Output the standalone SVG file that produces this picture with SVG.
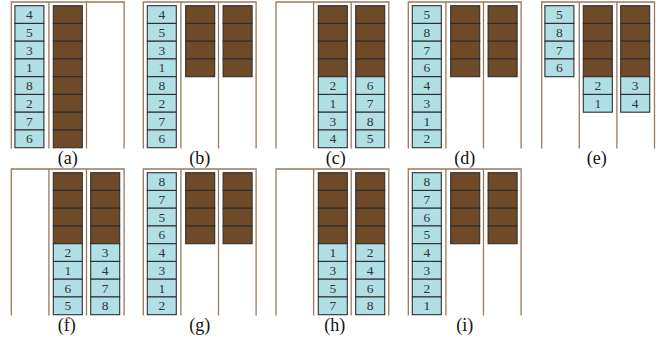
<svg xmlns="http://www.w3.org/2000/svg" xmlns:xlink="http://www.w3.org/1999/xlink" width="667" height="341" viewBox="0 0 667 341">
<style>
.fr{fill:none;stroke:#9c7a5c;stroke-width:1.3}
.b{fill:#b0e0e6;stroke:#2f2f2f;stroke-width:1.1}
.w{fill:#6e4a29;stroke:#2f2f2f;stroke-width:1.1}
.n{font-family:"Liberation Serif","DejaVu Serif",serif;font-size:13.5px;fill:#333;text-anchor:middle}
.lb{font-family:"Liberation Serif","DejaVu Serif",serif;font-size:18px;fill:#111;text-anchor:middle}
</style>
<defs>
<path id="frame" class="fr" d="M0,146.5V0H112.8V146.5M37.6,0V146.5M75.2,0V146.5"/>
<g id="br4">
<rect class="w" x="0" y="3.7" width="29" height="17.75"/>
<rect class="w" x="0" y="21.45" width="29" height="17.75"/>
<rect class="w" x="0" y="39.2" width="29" height="17.75"/>
<rect class="w" x="0" y="56.95" width="29" height="17.75"/>
</g>
<g id="br8">
<use xlink:href="#br4"/>
<use xlink:href="#br4" y="71"/>
</g>
<g id="bl8">
<rect class="b" x="0" y="3.7" width="29" height="17.75"/>
<rect class="b" x="0" y="21.45" width="29" height="17.75"/>
<rect class="b" x="0" y="39.2" width="29" height="17.75"/>
<rect class="b" x="0" y="56.95" width="29" height="17.75"/>
<rect class="b" x="0" y="74.7" width="29" height="17.75"/>
<rect class="b" x="0" y="92.45" width="29" height="17.75"/>
<rect class="b" x="0" y="110.2" width="29" height="17.75"/>
<rect class="b" x="0" y="127.95" width="29" height="17.75"/>
</g>
<g id="bl4">
<rect class="b" x="0" y="3.7" width="29" height="17.75"/>
<rect class="b" x="0" y="21.45" width="29" height="17.75"/>
<rect class="b" x="0" y="39.2" width="29" height="17.75"/>
<rect class="b" x="0" y="56.95" width="29" height="17.75"/>
</g>
</defs>

<!-- (a) -->
<g id="panel-a" transform="translate(11.3,2)">
<use xlink:href="#frame"/>
<use xlink:href="#bl8" x="3.6"/>
<g class="n" transform="translate(18.1,0)">
<text y="17.2">4</text><text y="34.95">5</text><text y="52.7">3</text><text y="70.45">1</text><text y="88.2">8</text><text y="105.95">2</text><text y="123.7">7</text><text y="141.45">6</text>
</g>
<use xlink:href="#br8" x="42"/>
<text class="lb" x="56.4" y="161.5">(a)</text>
</g>

<!-- (b) -->
<g id="panel-b" transform="translate(143.3,2)">
<use xlink:href="#frame"/>
<use xlink:href="#bl8" x="4"/>
<g class="n" transform="translate(18.5,0)">
<text y="17.2">4</text><text y="34.95">5</text><text y="52.7">3</text><text y="70.45">1</text><text y="88.2">8</text><text y="105.95">2</text><text y="123.7">7</text><text y="141.45">6</text>
</g>
<use xlink:href="#br4" x="42.4"/>
<use xlink:href="#br4" x="79.8"/>
<text class="lb" x="56.4" y="161.5">(b)</text>
</g>

<!-- (c) -->
<g id="panel-c" transform="translate(276,2)">
<use xlink:href="#frame"/>
<use xlink:href="#br4" x="42.3"/>
<use xlink:href="#bl4" x="42.3" y="71"/>
<use xlink:href="#br4" x="79.7"/>
<use xlink:href="#bl4" x="79.7" y="71"/>
<g class="n">
<text x="56.8" y="88.2">2</text><text x="56.8" y="105.95">1</text><text x="56.8" y="123.7">3</text><text x="56.8" y="141.45">4</text>
<text x="94.2" y="88.2">6</text><text x="94.2" y="105.95">7</text><text x="94.2" y="123.7">8</text><text x="94.2" y="141.45">5</text>
</g>
<text class="lb" x="59.7" y="161.5">(c)</text>
</g>

<!-- (d) -->
<g id="panel-d" transform="translate(408.3,2)">
<use xlink:href="#frame"/>
<use xlink:href="#bl8" x="4"/>
<g class="n" transform="translate(18.5,0)">
<text y="17.2">5</text><text y="34.95">8</text><text y="52.7">7</text><text y="70.45">6</text><text y="88.2">4</text><text y="105.95">3</text><text y="123.7">1</text><text y="141.45">2</text>
</g>
<use xlink:href="#br4" x="42.4"/>
<use xlink:href="#br4" x="79.8"/>
<text class="lb" x="56.4" y="161.5">(d)</text>
</g>

<!-- (e) -->
<g id="panel-e" transform="translate(541.7,2)">
<use xlink:href="#frame"/>
<use xlink:href="#bl4" x="3.2"/>
<g class="n" transform="translate(17.7,0)">
<text y="17.2">5</text><text y="34.95">8</text><text y="52.7">7</text><text y="70.45">6</text>
</g>
<use xlink:href="#br4" x="41.6"/>
<rect class="b" x="41.6" y="74.7" width="29" height="17.75"/>
<rect class="b" x="41.6" y="92.45" width="29" height="17.75"/>
<use xlink:href="#br4" x="79"/>
<rect class="b" x="79" y="74.7" width="29" height="17.75"/>
<rect class="b" x="79" y="92.45" width="29" height="17.75"/>
<g class="n">
<text x="56.1" y="88.2">2</text><text x="56.1" y="105.95">1</text>
<text x="93.5" y="88.2">3</text><text x="93.5" y="105.95">4</text>
</g>
<text class="lb" x="55" y="161.5">(e)</text>
</g>

<!-- (f) -->
<g id="panel-f" transform="translate(11.3,169)">
<use xlink:href="#frame"/>
<use xlink:href="#br4" x="42"/>
<use xlink:href="#bl4" x="42" y="71"/>
<use xlink:href="#br4" x="79.4"/>
<use xlink:href="#bl4" x="79.4" y="71"/>
<g class="n">
<text x="56.5" y="88.2">2</text><text x="56.5" y="105.95">1</text><text x="56.5" y="123.7">6</text><text x="56.5" y="141.45">5</text>
<text x="93.9" y="88.2">3</text><text x="93.9" y="105.95">4</text><text x="93.9" y="123.7">7</text><text x="93.9" y="141.45">8</text>
</g>
<text class="lb" x="55.4" y="161.5">(f)</text>
</g>

<!-- (g) -->
<g id="panel-g" transform="translate(143.3,169)">
<use xlink:href="#frame"/>
<use xlink:href="#bl8" x="4"/>
<g class="n" transform="translate(18.5,0)">
<text y="17.2">8</text><text y="34.95">7</text><text y="52.7">5</text><text y="70.45">6</text><text y="88.2">4</text><text y="105.95">3</text><text y="123.7">1</text><text y="141.45">2</text>
</g>
<use xlink:href="#br4" x="42.4"/>
<use xlink:href="#br4" x="79.8"/>
<text class="lb" x="56.4" y="161.5">(g)</text>
</g>

<!-- (h) -->
<g id="panel-h" transform="translate(276,169)">
<use xlink:href="#frame"/>
<use xlink:href="#br4" x="42.3"/>
<use xlink:href="#bl4" x="42.3" y="71"/>
<use xlink:href="#br4" x="79.7"/>
<use xlink:href="#bl4" x="79.7" y="71"/>
<g class="n">
<text x="56.8" y="88.2">1</text><text x="56.8" y="105.95">3</text><text x="56.8" y="123.7">5</text><text x="56.8" y="141.45">7</text>
<text x="94.2" y="88.2">2</text><text x="94.2" y="105.95">4</text><text x="94.2" y="123.7">6</text><text x="94.2" y="141.45">8</text>
</g>
<text class="lb" x="58.7" y="161.5">(h)</text>
</g>

<!-- (i) -->
<g id="panel-i" transform="translate(408.3,169)">
<use xlink:href="#frame"/>
<use xlink:href="#bl8" x="4"/>
<g class="n" transform="translate(18.5,0)">
<text y="17.2">8</text><text y="34.95">7</text><text y="52.7">6</text><text y="70.45">5</text><text y="88.2">4</text><text y="105.95">3</text><text y="123.7">2</text><text y="141.45">1</text>
</g>
<use xlink:href="#br4" x="42.4"/>
<use xlink:href="#br4" x="79.8"/>
<text class="lb" x="56.4" y="161.5">(i)</text>
</g>
</svg>
